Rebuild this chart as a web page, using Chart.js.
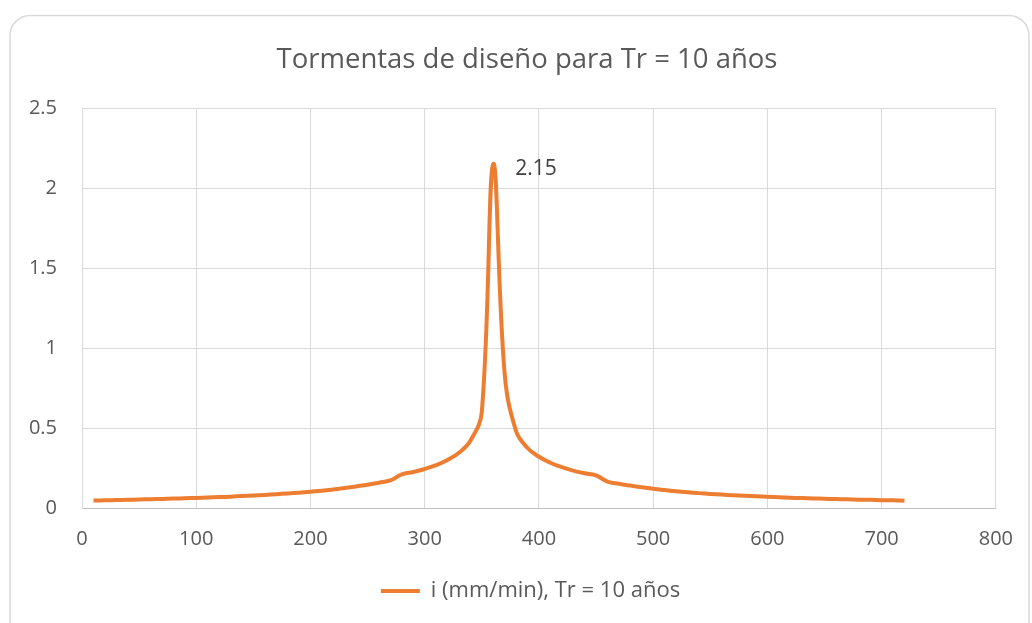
<!DOCTYPE html>
<html>
<head>
<meta charset="utf-8">
<script src="https://cdn.jsdelivr.net/npm/chart.js@4"></script>
<style>
    body { margin: 0; background: #ffffff; }
    #wrap { width: 1032px; height: 623px; position: relative; }
</style>
</head>
<body>
<div id="wrap"><canvas id="stormChart"></canvas></div>
<script>
// tiempo (min) e intensidad (mm/min), bloques alternos
const tiempos = [
    10, 20, 30, 40, 50, 60, 70, 80, 90, 100, 110, 120,
    130, 140, 150, 160, 170, 180, 190, 200, 210, 220, 230, 240,
    250, 260, 270, 280, 290, 300, 310, 320, 330, 340, 350, 360,
    370, 380, 390, 400, 410, 420, 430, 440, 450, 460, 470, 480,
    490, 500, 510, 520, 530, 540, 550, 560, 570, 580, 590, 600,
    610, 620, 630, 640, 650, 660, 670, 680, 690, 700, 710, 720
];
const intensidades = [
    0.047, 0.048, 0.050, 0.051, 0.053, 0.055, 0.057, 0.059, 0.061, 0.063, 0.066, 0.068,
    0.071, 0.075, 0.078, 0.082, 0.086, 0.091, 0.096, 0.102, 0.108, 0.116, 0.125, 0.135,
    0.145, 0.158, 0.172, 0.210, 0.225, 0.244, 0.268, 0.300, 0.345, 0.420, 0.600, 2.150,
    0.840, 0.480, 0.375, 0.320, 0.283, 0.255, 0.234, 0.217, 0.204, 0.165, 0.151, 0.140,
    0.130, 0.120, 0.112, 0.105, 0.099, 0.093, 0.088, 0.084, 0.080, 0.076, 0.073, 0.070,
    0.067, 0.064, 0.062, 0.060, 0.058, 0.056, 0.054, 0.052, 0.051, 0.049, 0.048, 0.046
];
const xTicks = [0, 100, 200, 300, 400, 500, 600, 700, 800];
const yTicks = [0, 0.5, 1, 1.5, 2, 2.5];

const textColor = '#595959';
const gridColor = '#d9d9d9';
const fontFamily = "'Open Sans', 'Liberation Sans', sans-serif";

const puntos = tiempos.map((t, i) => ({ x: t, y: intensidades[i] }));

// marco redondeado del grafico
const framePlugin = {
    id: 'frame',
    beforeDraw(chart) {
        const ctx = chart.ctx;
        ctx.save();
        ctx.fillStyle = '#ffffff';
        ctx.fillRect(0, 0, chart.width, chart.height);
        ctx.strokeStyle = gridColor;
        ctx.lineWidth = 1.5;
        ctx.beginPath();
        ctx.roundRect(10, 15.5, 1019, 640, 20);
        ctx.stroke();
        ctx.restore();
    }
};

// el titulo y la leyenda se centran sobre el marco completo, no sobre el lienzo
const centerShift = {
    id: 'centerShift',
    afterLayout(chart) {
        if (chart.titleBlock) chart.titleBlock.left += 57;
        if (chart.legend) chart.legend.left += 64;
    }
};

// etiqueta del valor maximo
const peakLabel = {
    id: 'peakLabel',
    afterDatasetsDraw(chart) {
        const meta = chart.getDatasetMeta(0);
        let idx = 0;
        intensidades.forEach((v, i) => { if (v > intensidades[idx]) idx = i; });
        const pt = meta.data[idx];
        const ctx = chart.ctx;
        ctx.save();
        ctx.font = '21px ' + fontFamily;
        ctx.fillStyle = '#404040';
        ctx.textAlign = 'left';
        ctx.textBaseline = 'middle';
        ctx.fillText(intensidades[idx].toFixed(2), pt.x + 22, pt.y + 5);
        ctx.restore();
    }
};

new Chart(document.getElementById('stormChart'), {
    type: 'line',
    data: {
        datasets: [{
            label: 'i (mm/min), Tr = 10 años',
            data: puntos,
            borderColor: '#ED7D31',
            backgroundColor: '#ED7D31',
            borderWidth: 4,
            pointRadius: 0,
            tension: 0.4,
            fill: false
        }]
    },
    options: {
        responsive: true,
        maintainAspectRatio: false,
        animation: false,
        layout: { padding: { left: 0, right: 35, top: 0, bottom: 11 } },
        plugins: {
            title: {
                display: true,
                text: 'Tormentas de diseño para Tr = 10 años',
                color: textColor,
                font: { family: fontFamily, size: 27.5, weight: 'normal' },
                padding: { top: 44, bottom: 31 }
            },
            legend: {
                position: 'bottom',
                labels: {
                    color: textColor,
                    font: { family: fontFamily, size: 22 },
                    usePointStyle: true,
                    pointStyle: 'line',
                    pointStyleWidth: 39,
                    padding: 9
                }
            },
            tooltip: { enabled: false }
        },
        scales: {
            x: {
                type: 'linear',
                min: xTicks[0],
                max: xTicks[xTicks.length - 1],
                afterBuildTicks: s => { s.ticks = xTicks.map(v => ({ value: v })); },
                afterFit: s => { s.height = 63; },
                grid: { color: gridColor, drawTicks: false },
                border: { color: '#bfbfbf' },
                ticks: {
                    color: textColor,
                    padding: 19,
                    font: { family: fontFamily, size: 20 },
                    callback: v => String(v)
                }
            },
            y: {
                min: yTicks[0],
                max: yTicks[yTicks.length - 1],
                afterBuildTicks: s => { s.ticks = yTicks.map(v => ({ value: v })); },
                afterFit: s => { s.width = 82; },
                grid: { color: gridColor, drawTicks: false },
                border: { color: gridColor },
                ticks: {
                    color: textColor,
                    padding: 25,
                    font: { family: fontFamily, size: 20 },
                    callback: v => String(v)
                }
            }
        }
    },
    plugins: [framePlugin, centerShift, peakLabel]
});
</script>
</body>
</html>
